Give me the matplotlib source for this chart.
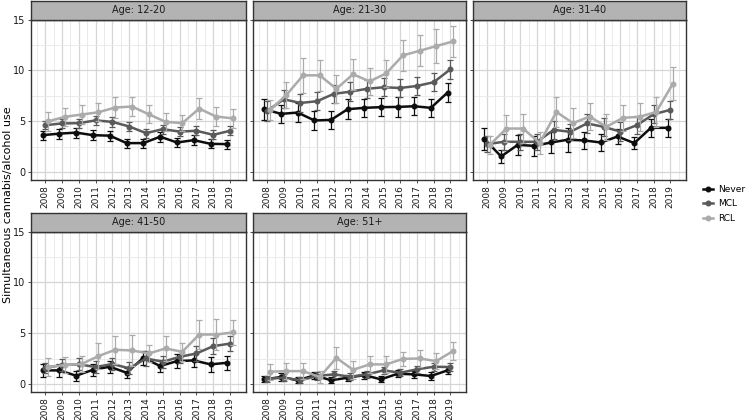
import numpy as np
import matplotlib.pyplot as plt
from matplotlib.lines import Line2D

years = np.arange(2008, 2020)
groups = ['Never', 'MCL', 'RCL']
colors = ['#0d0d0d', '#5a5a5a', '#ababab']
panels = ['Age: 12-20', 'Age: 21-30', 'Age: 31-40', 'Age: 41-50', 'Age: 51+']

# means
never_12_20 = [3.65, 3.8, 3.9, 3.65, 3.6, 2.87, 2.87, 3.5, 2.93, 3.16, 2.8, 2.77]
mcl_12_20 = [4.63, 4.8, 4.83, 5.1, 4.95, 4.5, 3.85, 4.24, 4.0, 4.08, 3.68, 4.08]
rcl_12_20 = [5.0, 5.45, 5.67, 5.9, 6.36, 6.46, 5.7, 4.96, 4.83, 6.26, 5.48, 5.3]

never_21_30 = [6.19, 5.74, 5.87, 5.09, 5.15, 6.2, 6.33, 6.4, 6.42, 6.49, 6.33, 7.83]
mcl_21_30 = [6.03, 7.17, 6.81, 6.98, 7.7, 7.92, 8.2, 8.35, 8.28, 8.48, 8.84, 10.1]
rcl_21_30 = [6.1, 7.6, 9.52, 9.52, 8.2, 9.62, 8.93, 9.72, 11.48, 11.93, 12.39, 12.85]

never_31_40 = [3.26, 1.56, 2.7, 2.6, 2.93, 3.2, 3.13, 2.93, 3.52, 2.87, 4.37, 4.37]
mcl_31_40 = [2.77, 3.0, 3.0, 3.0, 4.17, 3.98, 4.8, 4.47, 4.0, 4.63, 5.7, 6.13]
rcl_31_40 = [2.7, 4.3, 4.3, 2.87, 5.93, 4.83, 5.48, 4.47, 5.35, 5.45, 5.93, 8.7]

never_41_50 = [1.37, 1.37, 0.85, 1.43, 1.73, 1.14, 2.6, 1.8, 2.28, 2.35, 1.96, 2.12]
mcl_41_50 = [1.63, 1.89, 1.96, 1.7, 2.0, 1.57, 2.54, 2.22, 2.7, 3.03, 3.75, 4.0]
rcl_41_50 = [1.7, 1.89, 2.0, 2.77, 3.39, 3.33, 3.03, 3.52, 3.2, 4.89, 4.89, 5.09]

never_51 = [0.49, 0.72, 0.4, 0.88, 0.4, 0.65, 0.91, 0.49, 1.04, 0.98, 0.82, 1.37]
mcl_51 = [0.55, 0.65, 0.4, 0.82, 0.98, 0.75, 0.98, 1.37, 1.14, 1.47, 1.73, 1.7]
rcl_51 = [1.24, 1.3, 1.3, 0.72, 2.6, 1.43, 1.96, 1.96, 2.5, 2.54, 2.28, 3.26]

# error bar half widths
err_never_12_20 = [0.45, 0.5, 0.5, 0.5, 0.5, 0.45, 0.45, 0.5, 0.45, 0.5, 0.45, 0.45]
err_mcl_12_20 = [0.4, 0.45, 0.45, 0.45, 0.45, 0.45, 0.45, 0.45, 0.45, 0.45, 0.45, 0.45]
err_rcl_12_20 = [0.9, 0.9, 0.9, 0.9, 1.0, 0.9, 0.9, 0.9, 0.8, 1.0, 0.9, 0.9]

err_never_21_30 = [1.05, 0.9, 0.9, 0.95, 0.9, 1.0, 0.9, 0.9, 1.0, 0.9, 0.9, 0.9]
err_mcl_21_30 = [1.0, 0.9, 0.9, 0.9, 0.9, 0.9, 0.9, 0.9, 0.9, 0.9, 0.9, 0.9]
err_rcl_21_30 = [1.0, 1.3, 1.7, 1.5, 1.4, 1.5, 1.3, 1.3, 1.5, 1.5, 1.7, 1.5]

err_never_31_40 = [1.05, 0.6, 1.0, 1.0, 1.0, 1.2, 0.8, 0.8, 0.7, 0.6, 0.9, 0.9]
err_mcl_31_40 = [0.8, 0.8, 0.8, 0.8, 0.9, 0.8, 0.9, 0.9, 0.9, 0.9, 0.9, 0.9]
err_rcl_31_40 = [0.9, 1.3, 1.4, 1.1, 1.5, 1.5, 1.3, 1.3, 1.3, 1.4, 1.5, 1.6]

err_never_41_50 = [0.6, 0.6, 0.5, 0.6, 0.6, 0.5, 0.7, 0.6, 0.7, 0.6, 0.7, 0.7]
err_mcl_41_50 = [0.5, 0.6, 0.6, 0.6, 0.6, 0.6, 0.7, 0.6, 0.6, 0.7, 0.8, 0.7]
err_rcl_41_50 = [0.9, 0.8, 0.8, 1.3, 1.4, 1.5, 0.8, 1.2, 0.9, 1.4, 1.5, 1.2]

err_never_51 = [0.3, 0.35, 0.3, 0.35, 0.3, 0.3, 0.35, 0.3, 0.35, 0.35, 0.35, 0.35]
err_mcl_51 = [0.3, 0.35, 0.3, 0.35, 0.35, 0.35, 0.35, 0.35, 0.35, 0.35, 0.4, 0.4]
err_rcl_51 = [0.8, 0.8, 0.8, 0.6, 1.1, 0.9, 0.8, 0.8, 0.7, 0.8, 0.8, 0.9]

means = [[never_12_20, mcl_12_20, rcl_12_20],
         [never_21_30, mcl_21_30, rcl_21_30],
         [never_31_40, mcl_31_40, rcl_31_40],
         [never_41_50, mcl_41_50, rcl_41_50],
         [never_51, mcl_51, rcl_51]]
errs = [[err_never_12_20, err_mcl_12_20, err_rcl_12_20],
        [err_never_21_30, err_mcl_21_30, err_rcl_21_30],
        [err_never_31_40, err_mcl_31_40, err_rcl_31_40],
        [err_never_41_50, err_mcl_41_50, err_rcl_41_50],
        [err_never_51, err_mcl_51, err_rcl_51]]

W, H = 756, 420
fig = plt.figure(figsize=(W / 100, H / 100), dpi=100)

cols = [(31, 246), (253, 466), (473, 686)]
rows = [(0.5, 19.5, 180), (213, 231.5, 392)]
dodge = [-0.16, 0.0, 0.16]

def box(x0, x1, y0, y1):
    return [x0 / W, 1 - y1 / H, (x1 - x0) / W, (y1 - y0) / H]

for i, name in enumerate(panels):
    r, c = divmod(i, 3)
    x0, x1 = cols[c]
    s0, t0, b0 = rows[r]
    ax = fig.add_axes(box(x0, x1, t0, b0))
    sax = fig.add_axes(box(x0, x1, s0, t0))
    sax.set_facecolor('#b3b3b3')
    sax.set_xticks([])
    sax.set_yticks([])
    for sp in sax.spines.values():
        sp.set_color('#333333')
        sp.set_linewidth(1)
    sax.text(0.5, 0.5, name, ha='center', va='center', fontsize=7, color='#1a1a1a',
             transform=sax.transAxes)

    for g in range(3):
        x = years + dodge[g]
        ax.errorbar(x, means[i][g], yerr=errs[i][g], fmt='none', ecolor=colors[g],
                    elinewidth=0.9, capsize=2, capthick=0.9, zorder=3 + g)
        ax.plot(x, means[i][g], color=colors[g], lw=1.8, marker='o', ms=3.3, zorder=3 + g)

    ax.set_xlim(2007.15, 2019.95)
    ax.set_ylim(-0.75, 15.0)
    ax.set_xticks(years)
    ax.set_xticks(np.arange(2007.5, 2020, 1.0), minor=True)
    ax.set_yticks([0, 5, 10, 15])
    ax.set_yticks([2.5, 7.5, 12.5], minor=True)
    ax.grid(which='major', color='#d6d6d6', lw=0.9)
    ax.grid(which='minor', color='#e8e8e8', lw=0.6)
    ax.set_axisbelow(True)
    ax.tick_params(which='minor', length=0)
    ax.tick_params(which='major', length=2.5, color='#333333', width=0.6, pad=1.5)
    ax.set_xticklabels([str(y) for y in years], rotation=90, fontsize=6.5, color='#1a1a1a')
    if c == 0:
        ax.set_yticklabels(['0', '5', '10', '15'], fontsize=7, color='#1a1a1a')
    else:
        ax.set_yticklabels([])
    for sp in ax.spines.values():
        sp.set_color('#333333')
        sp.set_linewidth(1)

fig.text(8 / W, 1 - 205 / H, 'Simultaneous cannabis/alcohol use', rotation=90,
         ha='center', va='center', fontsize=8)

handles = [Line2D([], [], color=colors[g], lw=1.8, marker='o', ms=3.3) for g in range(3)]
fig.legend(handles, groups, loc='center left', bbox_to_anchor=(703 / W, 1 - 204 / H),
           frameon=False, fontsize=6.5, handlelength=1.1, labelspacing=0.6, handletextpad=0.6,
           borderpad=0, borderaxespad=0)

fig.savefig('out.png', dpi=100)
